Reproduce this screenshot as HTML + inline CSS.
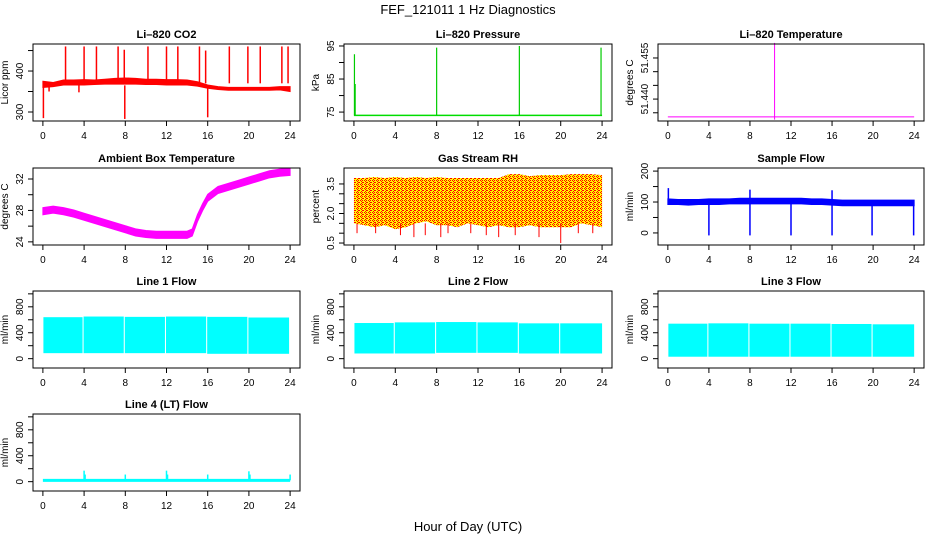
<!DOCTYPE html>
<html><head><meta charset="utf-8"><style>
html,body{margin:0;padding:0;background:#fff;}
svg text{font-family:"Liberation Sans",sans-serif;fill:#000;}
</style></head><body>
<svg id="chart" width="936" height="540" xmlns="http://www.w3.org/2000/svg">
<defs>
<pattern id="rhpat" width="4" height="4" patternUnits="userSpaceOnUse">
<rect width="4" height="4" fill="#ffff00"/>
<rect x="0" y="0" width="1" height="1" fill="#ff0000"/>
<rect x="2" y="0" width="1" height="1" fill="#ff0000"/>
<rect x="1" y="1" width="1" height="1" fill="#ff0000"/>
<rect x="3" y="2" width="1" height="1" fill="#ff0000"/>
<rect x="1" y="3" width="1" height="1" fill="#ff0000"/>
<rect x="2" y="2" width="1" height="1" fill="#ff0000"/>
</pattern>
</defs>
<text x="468" y="14" text-anchor="middle" font-size="13">FEF_121011  1 Hz Diagnostics</text>
<text x="468" y="531" text-anchor="middle" font-size="13">Hour of Day (UTC)</text>
</svg>
<script>
// ---- data ----
const xTicks = [0,4,8,12,16,20,24];
const hours = [0,1,2,3,4,5,6,7,8,9,10,11,12,13,14,15,16,17,18,19,20,21,22,23,24];
// CO2
const co2Hi = [375,372,378,378,379,378,380,382,383,382,380,380,379,379,378,374,366,362,360,360,360,360,360,362,362];
const co2Lo = [360,362,366,366,366,367,368,368,368,368,367,367,366,366,366,363,358,355,353,353,353,353,353,354,350];
const co2SpikeX = [2.2,4.0,5.2,7.3,7.9,10.2,12.0,13.1,15.2,15.8,18.1,19.9,21.1,23.2,23.8];
const co2SpikeV = [460,460,460,460,452,460,460,460,460,450,460,460,460,460,460];
const co2DipX = [0.05,7.95,16.0,3.5,0.6];
const co2DipV = [285,283,287,348,350];
// Pressure
const presBase = 74.0;
const presSpikeX = [0.05,0.12,8.0,16.0,23.9];
const presSpikeV = [92.5,83.5,94.5,95,94.5];
// Li-820 temperature
const ltBase = 51.4335;
const ltSpikeX = [10.4];
const ltSpikeV = [51.4605];
// Ambient temperature
const ambHours = [0,1,2,3,4,5,6,7,8,9,10,11,12,13,14,14.5,15,15.5,16,17,18,19,20,21,22,23,24];
const ambMid = [27.9,28.1,27.9,27.6,27.2,26.8,26.4,26.0,25.6,25.2,25.0,24.9,24.9,24.9,24.9,25.2,27.0,28.4,29.6,30.6,31.0,31.4,31.8,32.2,32.6,32.8,32.9];
// RH
const rhHi = [3.8,3.8,3.85,3.8,3.85,3.8,3.85,3.8,3.85,3.8,3.8,3.8,3.8,3.8,3.8,4.0,4.0,3.9,3.95,3.95,3.95,4.0,4.0,4.0,3.95];
const rhLo = [1.5,1.4,1.3,1.4,1.2,1.3,1.5,1.6,1.4,1.4,1.3,1.5,1.4,1.3,1.4,1.3,1.3,1.4,1.3,1.3,1.3,1.3,1.5,1.4,1.3];
const rhDipX = [0.3,2.1,4.5,5.8,6.9,8.4,9.1,11.3,12.8,14.0,15.6,17.9,20.0,21.7,23.1];
const rhDipV = [1.0,1.0,0.9,0.8,0.9,0.8,1.0,1.0,0.9,0.8,0.9,0.8,0.5,1.0,1.0];
// Sample flow
const sfHi = [110,108,108,108,110,110,110,112,112,112,112,112,112,112,110,110,108,106,106,106,106,106,106,106,106];
const sfLo = [92,92,90,92,92,92,94,94,94,94,94,94,94,94,92,92,90,88,88,88,88,88,88,88,88];
const sfDipX = [4.0,8.0,12.0,16.0,19.9,23.95];
const sfDipV = [-8,-8,-8,-8,-8,-8];
const sfSpikeX = [0.05,8.0,16.0];
const sfSpikeV = [145,140,138];
// Line flows: segments
const l1Start = [0.05,3.95,7.95,11.95,15.95,19.95];
const l1End = [3.85,7.85,11.85,15.85,19.85,23.9];
const l1Hi = [640,650,645,650,645,635];
const l1Lo = [85,85,85,85,75,75];
const l2Start = [0.05,3.95,7.95,11.95,15.95,19.95];
const l2End = [3.85,7.85,11.85,15.85,19.85,24.0];
const l2Hi = [550,560,565,560,545,545];
const l2Lo = [80,80,90,90,80,80];
const l3Start = [0.05,3.95,7.95,11.95,15.95,19.95];
const l3End = [3.85,7.85,11.85,15.85,19.85,24.0];
const l3Hi = [540,545,540,540,535,530];
const l3Lo = [30,30,30,30,30,30];
const l4Base = 20;
const l4SpikeX = [4.0,4.1,8.0,12.0,12.1,16.0,20.0,20.1,24.0];
const l4SpikeV = [170,110,110,170,110,110,160,110,110];

// ---- layout ----
const NS = "http://www.w3.org/2000/svg";
const svg = document.getElementById('chart');
const colX = [[33,300],[344,612],[658,924]];
const rowY = [[44,121],[168,245],[291,368],[414,491]];

function el(tag, attrs, parent){
  const e = document.createElementNS(NS, tag);
  for (const k in attrs) e.setAttribute(k, attrs[k]);
  (parent||svg).appendChild(e);
  return e;
}

function makePanel(name, col, row, title, ylab, ymin, ymax, yTicks, yLabels){
  const [x0,x1] = colX[col], [y0,y1] = rowY[row];
  const g = el('g', {});
  
  
  const xs = h => x0 + (h + 0.96) / 25.92 * (x1 - x0);
  const ys = v => y1 - (v - ymin) / (ymax - ymin) * (y1 - y0);
  const t = el('text', {x:(x0+x1)/2, y:y0-6, 'text-anchor':'middle', 'font-size':'11', 'font-weight':'bold'}, g);
  t.textContent = title;
  
  
  const plot = el('g', {}, g);
  
  
  const box = el('rect', {x:x0, y:y0, width:x1-x0, height:y1-y0, fill:'none', stroke:'#000', 'stroke-width':'1'}, g);
  
  
  const xa = el('g', {}, g);
  
  
  el('line', {x1:xs(xTicks[0]), x2:xs(xTicks[xTicks.length-1]), y1:y1, y2:y1, stroke:'#000'}, xa);
  xTicks.forEach(v => {
    el('line', {x1:xs(v), x2:xs(v), y1:y1, y2:y1+5, stroke:'#000'}, xa);
    const l = el('text', {x:xs(v), y:y1+18, 'text-anchor':'middle', 'font-size':'10'}, xa);
    l.textContent = v;
  });
  const ya = el('g', {}, g);
  
  
  el('line', {x1:x0, x2:x0, y1:ys(yTicks[0]), y2:ys(yTicks[yTicks.length-1]), stroke:'#000'}, ya);
  yTicks.forEach(v => {
    el('line', {x1:x0-5, x2:x0, y1:ys(v), y2:ys(v), stroke:'#000'}, ya);
  });
  yLabels.forEach(v => {
    const l = el('text', {x:x0-10, y:ys(v), 'text-anchor':'middle', 'font-size':'10', transform:`rotate(-90 ${x0-10} ${ys(v)})`}, ya);
    l.textContent = v;
  });
  const yl = el('text', {x:x0-25, y:(y0+y1)/2, 'text-anchor':'middle', 'font-size':'10', transform:`rotate(-90 ${x0-25} ${(y0+y1)/2})`}, g);
  yl.textContent = ylab;
  
  
  return {xs, ys, plot};
}

function band(p, hs, lo, hi, fill){
  const pts = hs.map((h,i)=>`${p.xs(h)},${p.ys(hi[i])}`).concat(hs.map((h,i)=>`${p.xs(h)},${p.ys(lo[i])}`).reverse());
  const e = el('polygon', {points:pts.join(' '), fill:fill, stroke:fill==='url(#rhpat)'?'none':fill, 'stroke-width':'1'}, p.plot);
  
  
}
function spikes(p, xsArr, vs, base, color, w){
  xsArr.forEach((h,i)=>{
    const e = el('line', {x1:p.xs(h), x2:p.xs(h), y1:p.ys(base), y2:p.ys(vs[i]), stroke:color, 'stroke-width':w||1}, p.plot);
    
    
  });
}
function hline(p, h0, h1, v, color, w){
  const e = el('line', {x1:p.xs(h0), x2:p.xs(h1), y1:p.ys(v), y2:p.ys(v), stroke:color, 'stroke-width':w||1}, p.plot);
  
  
}
function segments(p, st, en, lo, hi, color){
  st.forEach((s,i)=>{
    const e = el('rect', {x:p.xs(s), y:p.ys(hi[i]), width:p.xs(en[i])-p.xs(s), height:p.ys(lo[i])-p.ys(hi[i]), fill:color}, p.plot);
    
    
  });
}

// CO2
let p = makePanel('co2', 0, 0, 'Li–820 CO2', 'Licor ppm', 278, 466, [300,350,400,450], [300,400]);
band(p, hours, co2Lo, co2Hi, '#ff0000');
spikes(p, co2SpikeX, co2SpikeV, 370, '#ff0000', 1.5);
spikes(p, co2DipX, co2DipV, 365, '#ff0000', 1.5);
// Pressure
p = makePanel('pressure', 1, 0, 'Li–820 Pressure', 'kPa', 72.3, 95.6, [75,80,85,90,95], [75,85,95]);
hline(p, 0, 24, presBase, '#00dd00', 1.5);
spikes(p, presSpikeX, presSpikeV, presBase, '#00cc00', 1.2);
// Li-820 Temperature
p = makePanel('li820-temp', 2, 0, 'Li–820 Temperature', 'degrees C', 51.432, 51.4601, [51.435,51.440,51.445,51.450,51.455], ['51.440','51.455']);
hline(p, 0, 24, ltBase, '#ff00ff', 1);
spikes(p, ltSpikeX, ltSpikeV, ltBase - 0.001, '#ff00ff', 1);
// Ambient temperature
p = makePanel('ambient-temp', 0, 1, 'Ambient Box Temperature', 'degrees C', 23.6, 33.4, [24,26,28,30,32], [24,28,32]);
band(p, ambHours, ambMid.map(v=>v-0.45), ambMid.map(v=>v+0.45), '#ff00ff');
// RH
p = makePanel('gas-rh', 1, 1, 'Gas Stream RH', 'percent', 0.40, 4.31, [0.5,1.0,1.5,2.0,2.5,3.0,3.5], ['0.5','2.0','3.5']);
band(p, hours, rhLo, rhHi, 'url(#rhpat)');
spikes(p, rhDipX, rhDipV, 1.5, '#ff0000', 1);
// Sample flow
p = makePanel('sample-flow', 2, 1, 'Sample Flow', 'ml/min', -39, 210, [0,50,100,150,200], [0,100,200]);
band(p, hours, sfLo, sfHi, '#0000ff');
spikes(p, sfDipX, sfDipV, 95, '#0000ff', 1.5);
spikes(p, sfSpikeX, sfSpikeV, 100, '#0000ff', 1.5);
// Line flows
p = makePanel('line1-flow', 0, 2, 'Line 1 Flow', 'ml/min', -144, 1044, [0,200,400,600,800,1000], [0,400,800]);
segments(p, l1Start, l1End, l1Lo, l1Hi, '#00ffff');
p = makePanel('line2-flow', 1, 2, 'Line 2 Flow', 'ml/min', -144, 1044, [0,200,400,600,800,1000], [0,400,800]);
segments(p, l2Start, l2End, l2Lo, l2Hi, '#00ffff');
p = makePanel('line3-flow', 2, 2, 'Line 3 Flow', 'ml/min', -144, 1044, [0,200,400,600,800,1000], [0,400,800]);
segments(p, l3Start, l3End, l3Lo, l3Hi, '#00ffff');
p = makePanel('line4-flow', 0, 3, 'Line 4 (LT) Flow', 'ml/min', -144, 1044, [0,200,400,600,800,1000], [0,400,800]);
hline(p, 0, 24, l4Base, '#00ffff', 3);
spikes(p, l4SpikeX, l4SpikeV, l4Base, '#00ffff', 1.5);
</script>
</body></html>
